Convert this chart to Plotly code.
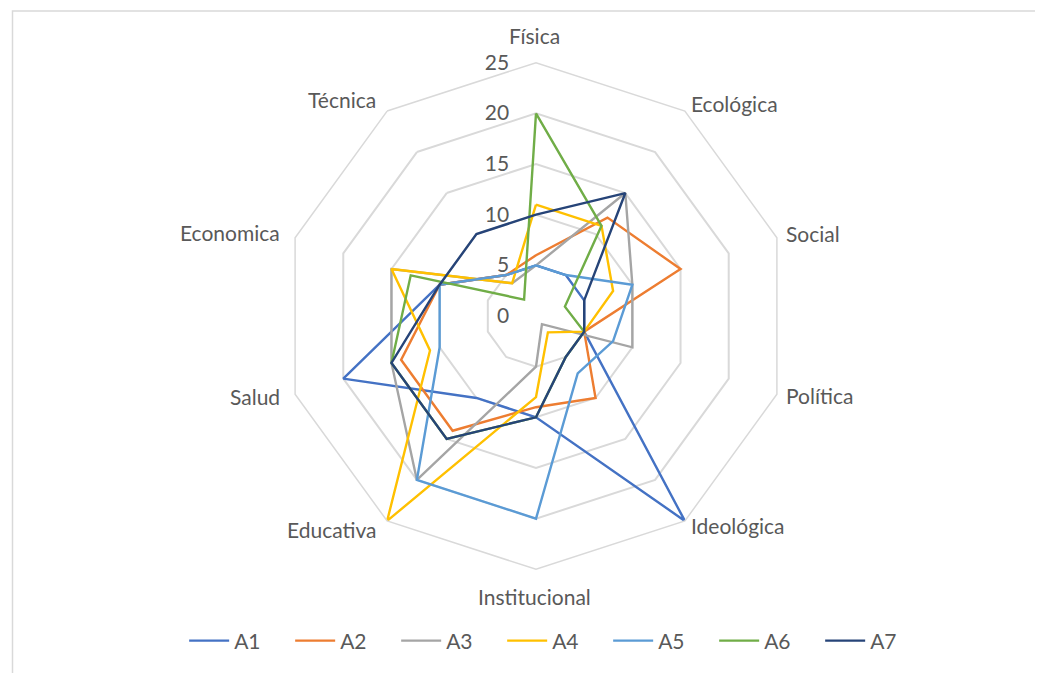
import math
import plotly.graph_objects as go

categories = ["Física", "Ecológica", "Social", "Política", "Ideológica",
              "Institucional", "Educativa", "Salud", "Economica", "Técnica"]

series_names = ["A1", "A2", "A3", "A4", "A5", "A6", "A7"]
a1 = [5, 5, 5, 5, 25, 10, 10, 20, 10, 5]
a2 = [6, 12, 15, 5, 10, 9, 14, 14, 10, 5]
a3 = [5, 15, 10, 10, 1, 5, 20, 15, 15, 4]
a4 = [11, 11, 8, 5, 2, 8, 25, 11, 15, 4]
a5 = [5, 5, 10, 8, 7, 20, 20, 10, 10, 5]
a6 = [20, 11, 3, 5, 5, 10, 15, 15, 13, 2]
a7 = [10, 15, 5, 5, 5, 10, 15, 15, 10, 10]
series_values = [a1, a2, a3, a4, a5, a6, a7]
colors = ["#4472C4", "#ED7D31", "#A5A5A5", "#FFC000", "#5B9BD5", "#70AD47", "#264478"]
radial_ticks = [0, 5, 10, 15, 20, 25]

W, H = 1043, 673
R = 253.3
# page offset of the plot div inside the browser page (body margin)
OX, OY = 6.5, 8.0
# target centre of the radar on screen
scx, scy = 534.5, 316.0
cx, cy = scx - OX, scy - OY
FONT = "Lato, Carlito, Calibri, sans-serif"
TXT = "#595959"
GRID = "#D9D9D9"
FS = 21

fig = go.Figure()
for name, vals, col in zip(series_names, series_values, colors):
    fig.add_trace(go.Scatterpolar(
        r=vals + vals[:1], theta=categories + categories[:1],
        mode="lines", name=name,
        line=dict(color=col, width=2.4),
    ))

# category labels placed like Excel (centred vertically, anchored by side)
annotations = []
n = len(categories)
for i, cat in enumerate(categories):
    ang = 2 * math.pi * i / n
    dx, dy = math.sin(ang), -math.cos(ang)
    if abs(dx) < 1e-6:
        px, py = cx - 1.5, cy + dy * (R + 27)
        xa = "center"
    else:
        off = 8 if dx > 0 else 13
        px, py = cx + dx * (R + off) - 1, cy + dy * (R + off) - 1.5
        xa = "left" if dx > 0 else "right"
    annotations.append(dict(
        text=cat, x=px / W, y=1 - py / H, xref="paper", yref="paper",
        xanchor=xa, yanchor="middle", showarrow=False,
        font=dict(family=FONT, size=FS, color=TXT),
    ))

fig.update_layout(
    width=W, height=H, autosize=False,
    margin=dict(l=0, r=0, t=0, b=0),
    paper_bgcolor="white", plot_bgcolor="white",
    font=dict(family=FONT, size=FS, color=TXT),
    polar=dict(
        bgcolor="white",
        gridshape="linear",
        domain=dict(x=[(cx - R) / W, (cx + R) / W],
                    y=[1 - (cy + R) / H, 1 - (cy - R) / H]),
        angularaxis=dict(
            direction="clockwise", rotation=90,
            showgrid=False, showline=True, linecolor=GRID, linewidth=1.5,
            ticks="", showticklabels=False,
        ),
        radialaxis=dict(
            range=[0, 25], tickvals=radial_ticks, angle=90, tickangle=90,
            showline=False, showgrid=True, gridcolor=GRID, gridwidth=1.5,
            ticks="outside", ticklen=19, tickcolor="rgba(0,0,0,0)",
            side="counterclockwise",
            tickfont=dict(family=FONT, size=FS, color=TXT),
        ),
    ),
    legend=dict(
        orientation="h", x=0.5246, xanchor="center", y=1 - 633 / H, yanchor="middle",
        font=dict(family=FONT, size=FS, color=TXT),
        entrywidth=51, entrywidthmode="pixels", itemwidth=40,
    ),
    annotations=annotations,
    shapes=[dict(type="rect", xref="paper", yref="paper",
                 x0=(11 - OX) / W, y0=-0.05, x1=1.05, y1=1 - (11 - OY) / H,
                 line=dict(color=GRID, width=1.5), fillcolor="rgba(0,0,0,0)", layer="below")],
)

fig.write_html("out.html")
